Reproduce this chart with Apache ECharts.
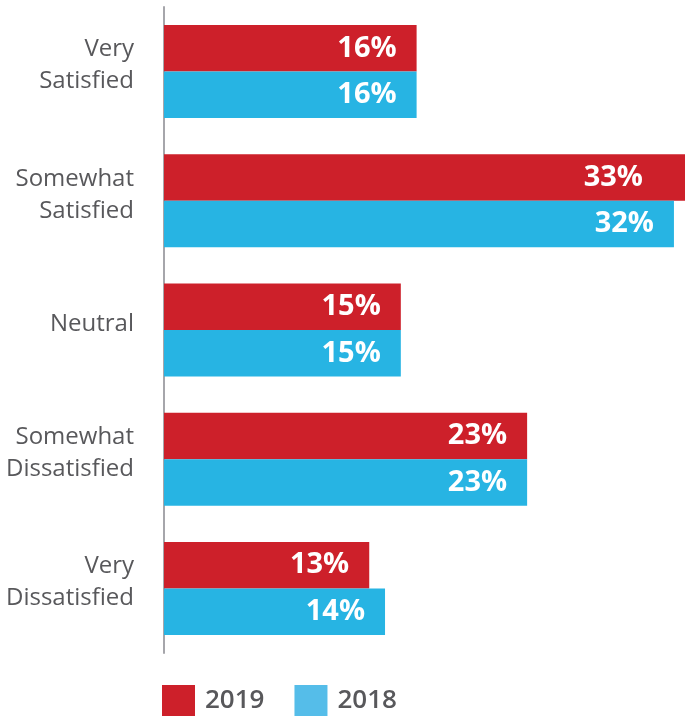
<!DOCTYPE html>
<html>
<head>
<meta charset="utf-8">
<script src="https://cdn.jsdelivr.net/npm/echarts@6/dist/echarts.min.js"></script>
<style>
  html, body { margin: 0; padding: 0; background: #fff; }
  #chart { width: 685px; height: 716px; }
</style>
</head>
<body>
<div id="chart"></div>
<script>
const categories = ["Very\nSatisfied", "Somewhat\nSatisfied", "Neutral", "Somewhat\nDissatisfied", "Very\nDissatisfied"];
const values2019 = [16, 33, 15, 23, 13];
const values2018 = [16, 32.3, 15, 23, 14];

const chart = echarts.init(document.getElementById("chart"));

const labelStyle = {
  show: true,
  position: "insideRight",
  distance: 20,
  color: "#fff",
  fontFamily: "Open Sans",
  fontWeight: "bold",
  fontSize: 29,
  formatter: p => Math.round(p.value) + "%"
};

// the widest bar runs off the right edge, its label sits further in
const data2019 = values2019.map(v => v >= 33 ? { value: v, label: { distance: 42 } } : v);

const option = {
  animation: false,
  grid: { left: 164, right: 0, top: 7, bottom: 63 },
  legend: {
    left: 162,
    bottom: 0,
    padding: 0,
    itemWidth: 33,
    itemHeight: 31,
    itemGap: 30,
    icon: "rect",
    textStyle: { color: "#58585b", fontSize: 26, fontWeight: 600, fontFamily: "Open Sans", padding: [0, 0, 0, 5] },
    data: [
      { name: "2019" },
      { name: "2018", itemStyle: { color: "#55bde9" } }
    ]
  },
  xAxis: {
    type: "value",
    min: 0,
    max: 33,
    show: false
  },
  yAxis: {
    type: "category",
    data: categories,
    inverse: true,
    axisLine: { lineStyle: { color: "#a6a6ab", width: 2 } },
    axisTick: { show: false },
    axisLabel: {
      margin: 30,
      align: "right",
      // extra short empty line lifts the text block a little above the band centre
      formatter: v => v.split("\n").map(s => "{t|" + s + "}").join("\n") + "\n{s| }",
      rich: {
        t: { color: "#58585b", fontSize: 24, lineHeight: 32, fontFamily: "Open Sans", align: "right" },
        s: { fontSize: 1, lineHeight: 12 }
      }
    }
  },
  series: [
    {
      name: "2019",
      type: "bar",
      data: data2019,
      barCategoryGap: "28%",
      barGap: 0,
      itemStyle: { color: "#cd202a" },
      label: labelStyle
    },
    {
      name: "2018",
      type: "bar",
      data: values2018,
      barGap: 0,
      itemStyle: { color: "#27b4e3" },
      label: labelStyle
    }
  ]
};

chart.setOption(option);
</script>
</body>
</html>
